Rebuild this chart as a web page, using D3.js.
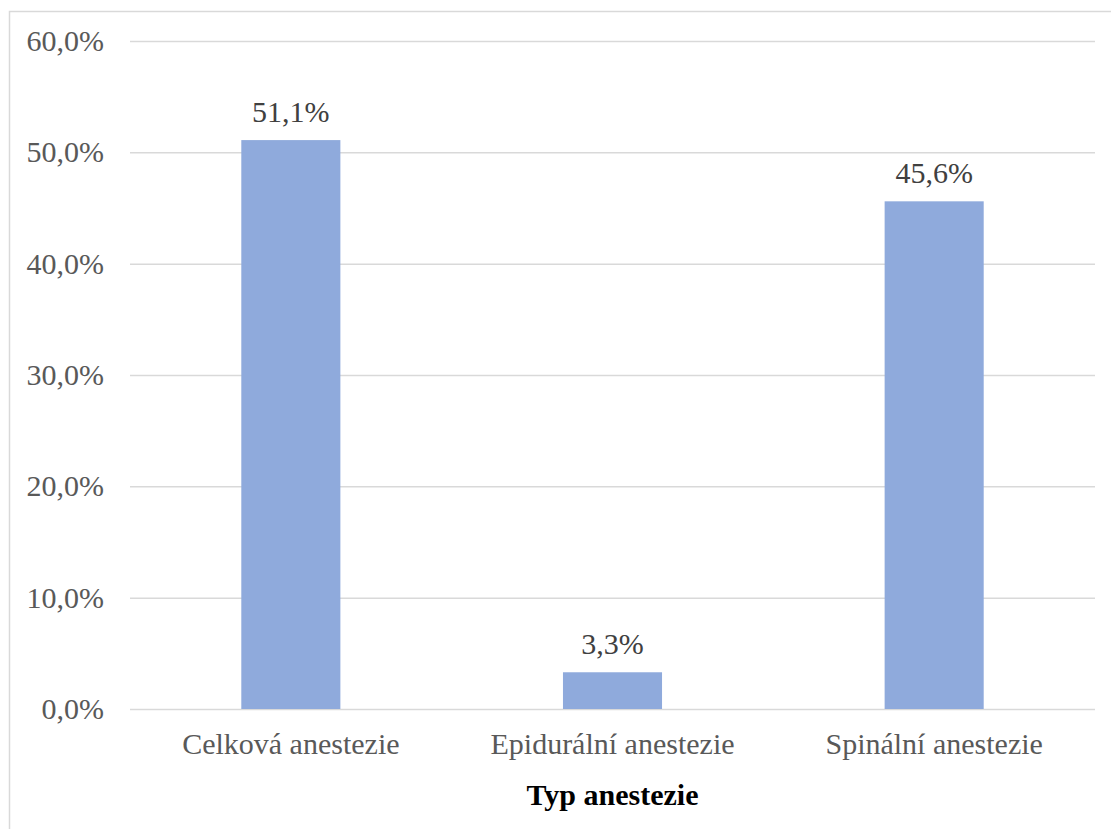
<!DOCTYPE html>
<html>
<head>
<meta charset="utf-8">
<script src="https://cdn.jsdelivr.net/npm/d3@7"></script>
<style>
  html, body { margin: 0; padding: 0; background: #fff; }
  svg { display: block; }
  svg text { font-family: "Liberation Serif", "Times New Roman", Times, serif; }
</style>
</head>
<body>
<svg id="chart" width="1111" height="829"></svg>
<script>
// Typ anestezie – podíl pacientů
const categories = ["Celková anestezie", "Epidurální anestezie", "Spinální anestezie"];
const values = [51.1, 3.3, 45.6];
const yTicks = [0, 10, 20, 30, 40, 50, 60];
const axisTitle = "Typ anestezie";

const W = 1111, H = 829;
const margin = { left: 130, right: 16, top: 41, bottom: 120 };
const plotRight = W - margin.right;
const plotBottom = H - margin.bottom;

const svg = d3.select("#chart");
const font = "\"Liberation Serif\", \"Times New Roman\", Times, serif";
const fontSize = "30px";
const fmt = v => v.toFixed(1).replace(".", ",") + "%";

// chart frame
svg.append("rect")
  .attr("x", 9.5).attr("y", 11.5)
  .attr("width", W).attr("height", H)
  .attr("fill", "#fff")
  .attr("stroke", "#d9d9d9").attr("stroke-width", 1.5);

const x = d3.scaleBand().domain(categories).range([margin.left, plotRight]).padding(0);
const y = d3.scaleLinear().domain([0, 60]).range([plotBottom, margin.top]);

// gridlines + y axis labels
const yAxis = d3.axisLeft(y).tickValues(yTicks).tickFormat(fmt)
  .tickSize(-(plotRight - margin.left)).tickPadding(26);
const gy = svg.append("g").attr("transform", `translate(${margin.left},0)`).call(yAxis)
  .attr("font-family", null).attr("font-size", null);
gy.select(".domain").remove();
gy.selectAll(".tick line").attr("stroke", "#d9d9d9").attr("stroke-width", 1.5);
gy.selectAll(".tick text")
  .style("font-family", font).style("font-size", fontSize)
  .attr("fill", "#595959").attr("dy", "0.32em");

// bars
const barFrac = 0.308;
const barW = x.bandwidth() * barFrac;
svg.append("g").selectAll("rect")
  .data(values)
  .join("rect")
  .attr("x", (d, i) => x(categories[i]) + (x.bandwidth() - barW) / 2)
  .attr("y", d => y(d))
  .attr("width", barW)
  .attr("height", d => y(0) - y(d))
  .attr("fill", "#8faadc");

// value labels
svg.append("g").selectAll("text")
  .data(values)
  .join("text")
  .attr("x", (d, i) => x(categories[i]) + x.bandwidth() / 2)
  .attr("y", d => y(d) - 18)
  .attr("text-anchor", "middle")
  .style("font-family", font).style("font-size", fontSize)
  .attr("fill", "#404040")
  .text(fmt);

// category labels
const xAxis = d3.axisBottom(x).tickSize(0).tickPadding(0);
const gx = svg.append("g").attr("transform", `translate(0,${plotBottom})`).call(xAxis)
  .attr("font-family", null).attr("font-size", null);
gx.select(".domain").remove();
gx.selectAll(".tick text")
  .style("font-family", font).style("font-size", fontSize)
  .attr("fill", "#595959")
  .attr("dy", null).attr("y", 45);

// axis title
svg.append("text")
  .attr("x", (margin.left + plotRight) / 2)
  .attr("y", 805)
  .attr("text-anchor", "middle")
  .style("font-family", font).style("font-size", fontSize)
  .attr("font-weight", "bold")
  .attr("fill", "#000")
  .text(axisTitle);
</script>
</body>
</html>
